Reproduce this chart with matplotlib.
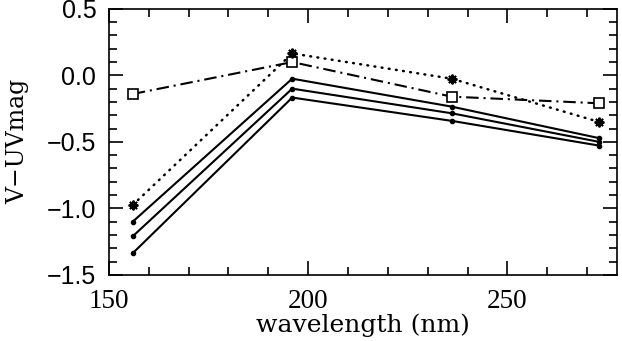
import matplotlib
matplotlib.use("Agg")
import matplotlib.pyplot as plt
from matplotlib.ticker import MultipleLocator

plt.rcParams['lines.scale_dashes'] = False

# Data
wavelength = [156, 196, 236, 273]
square_series = [-0.14, 0.10, -0.16, -0.21]
star_series = [-0.975, 0.165, -0.025, -0.35]
solid_a = [-1.10, -0.025, -0.235, -0.472]
solid_b = [-1.21, -0.10, -0.285, -0.50]
solid_c = [-1.337, -0.167, -0.342, -0.528]

fig = plt.figure(figsize=(6.22, 3.41), dpi=100)
ax = fig.add_axes([0.175, 0.194, 0.817, 0.780])

lw = 1.5
ax.plot(wavelength, square_series, color='black', lw=lw, dashes=(9, 3.5, 1.5, 3.5),
        marker='s', markersize=6.5, markerfacecolor='white', markeredgecolor='black',
        markeredgewidth=1.2, zorder=3)
ax.plot(wavelength, star_series, color='black', lw=1.8, dashes=(0.6, 4.6),
        dash_capstyle='round', marker=None, zorder=3)
ax.plot(wavelength, star_series, ls='none', marker=(8, 2, 0), markersize=7,
        markeredgecolor='black', markeredgewidth=1.4, zorder=4)
for s in (solid_a, solid_b, solid_c):
    ax.plot(wavelength, s, color='black', lw=lw, ls='-', marker='o', markersize=3.0,
            markerfacecolor='black', markeredgecolor='black', zorder=3)

ax.set_xlim(150, 277.5)
ax.set_ylim(-1.5, 0.5)

ax.xaxis.set_major_locator(MultipleLocator(50))
ax.xaxis.set_minor_locator(MultipleLocator(10))
ax.yaxis.set_major_locator(MultipleLocator(0.5))
ax.yaxis.set_minor_locator(MultipleLocator(0.1))

ax.tick_params(which='both', direction='in', top=True, right=True, width=1.2, color='black')
ax.tick_params(which='major', length=10)
ax.tick_params(which='minor', length=5.5)
ax.tick_params(axis='x', which='major', pad=10)
ax.tick_params(axis='y', which='major', pad=9)

for sp in ax.spines.values():
    sp.set_linewidth(1.2)

ax.set_xticks([150, 200, 250])
ax.set_xticklabels(['150', '200', '250'], family='Liberation Serif', fontsize=19.5)
yt = [0.5, 0.0, -0.5, -1.0, -1.5]
ax.set_yticks(yt)
ax.set_yticklabels(['0.5', '0.0', '\u22120.5', '\u22121.0', '\u22121.5'],
                   family='Liberation Sans', fontsize=18)

ax.set_xlabel('wavelength (nm)', family='DejaVu Serif', fontsize=18, labelpad=0)
ax.set_ylabel('V\u2212UVmag', family='DejaVu Serif', fontsize=17, labelpad=13)

fig.savefig('out.png', dpi=100)
